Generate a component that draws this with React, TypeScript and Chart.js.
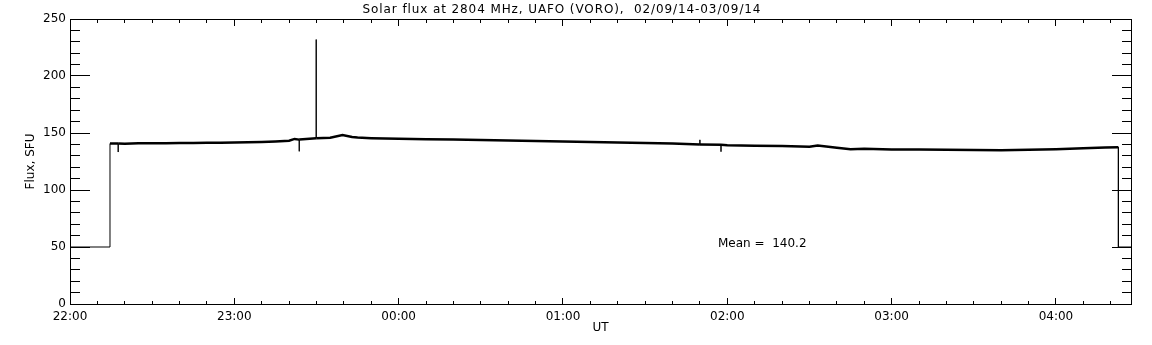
import React, { useEffect, useRef } from "react";
import { Chart, registerables } from "chart.js";

Chart.register(...registerables);

// Time axis: minutes after 22:00 UT (02/09/14)
const timeMinutes = [
  0, 14.6, 14.6, 17.6, 17.6, 17.6, 20, 25, 30, 35, 40, 45, 50, 55, 60, 65, 70, 75, 80, 82,
  83.7, 83.7, 83.7, 85, 89.9, 89.9, 89.9, 95, 99.5, 103, 105, 110, 120, 130, 140, 150, 160,
  170, 180, 190, 200, 210, 220, 230, 230, 230, 237.7, 237.7, 237.7, 240, 250, 260, 270, 273,
  280, 285, 290, 300, 310, 320, 330, 340, 350, 360, 370, 378, 382.8, 382.8, 387.4,
];
// Solar flux, SFU
const fluxSFU = [
  50, 50, 140.8, 140.7, 133.3, 140.7, 140.6, 140.9, 141.0, 141.0, 141.2, 141.2, 141.4, 141.5,
  141.6, 141.8, 142.2, 142.6, 143.2, 144.8, 144.2, 133.9, 144.2, 144.5, 145.5, 232, 145.5,
  145.8, 148.3, 146.5, 146.0, 145.5, 145.0, 144.6, 144.2, 143.8, 143.4, 143.0, 142.6, 142.2,
  141.6, 141.2, 140.7, 140.0, 144.0, 140.0, 139.6, 133.6, 139.6, 139.3, 138.9, 138.5, 137.9,
  139.0, 137.0, 135.8, 136.2, 135.6, 135.5, 135.2, 135.0, 134.9, 135.2, 135.8, 136.6, 137.2,
  137.5, 50, 50,
];

const xTickLabels = ["22:00", "23:00", "00:00", "01:00", "02:00", "03:00", "04:00"];
const yTickValues = [0, 50, 100, 150, 200, 250];
const xMax = 387.4;
const yMax = 250;
const titleText = "Solar flux at 2804 MHz, UAFO (VORO),  02/09/14-03/09/14";
const meanValue = 140.2;
const meanLabelPos = { x: 236.6, y: 53 };

const FONT = "DejaVu Sans";

const framePlugin = {
  id: "idlFrame",
  afterDraw(chart: any) {
    const { ctx, chartArea } = chart;
    const xs = chart.scales.x;
    const ys = chart.scales.y;
    const { left, right, top, bottom } = chartArea;
    ctx.save();
    ctx.strokeStyle = "#000";
    ctx.lineWidth = 1;
    ctx.strokeRect(left + 0.5, top + 0.5, right - left, bottom - top);
    ctx.beginPath();
    // y ticks (inward, both sides)
    for (let v = 0; v <= yMax; v += 10) {
      const py = Math.floor(ys.getPixelForValue(v)) + 0.5;
      const len = v % 50 === 0 ? 20 : 10;
      ctx.moveTo(left, py);
      ctx.lineTo(left + len, py);
      ctx.moveTo(right + 1, py);
      ctx.lineTo(right + 1 - len, py);
    }
    // x ticks (inward, both sides), every 10 min
    for (let m = 0; m <= xMax; m += 10) {
      const px = Math.floor(xs.getPixelForValue(m)) + 0.5;
      const len = m % 60 === 0 ? 6 : 3;
      ctx.moveTo(px, bottom);
      ctx.lineTo(px, bottom - len);
      ctx.moveTo(px, top + 1);
      ctx.lineTo(px, top + 1 + len);
    }
    ctx.stroke();
    // title
    ctx.fillStyle = "#000";
    ctx.font = `12px "${FONT}"`;
    ctx.textAlign = "center";
    ctx.textBaseline = "alphabetic";
    (ctx as any).letterSpacing = "0.9px";
    ctx.fillText(titleText, 562, 13);
    (ctx as any).letterSpacing = "0px";
    // mean label
    ctx.textAlign = "left";
    ctx.textBaseline = "middle";
    ctx.fillText(
      `Mean =  ${meanValue.toFixed(1)}`,
      xs.getPixelForValue(meanLabelPos.x),
      ys.getPixelForValue(meanLabelPos.y)
    );
    ctx.restore();
  },
};

export default function App() {
  const ref = useRef<HTMLCanvasElement | null>(null);
  useEffect(() => {
    document.body.style.margin = "0";
    document.body.style.background = "#fff";
    Chart.defaults.font.family = FONT;
    Chart.defaults.font.size = 12;
    Chart.defaults.color = "#000";
    const points = timeMinutes.map((t, i) => ({ x: t, y: fluxSFU[i] }));
    const chart = new Chart(ref.current as HTMLCanvasElement, {
      type: "line",
      data: {
        datasets: [
          {
            label: "Flux",
            data: points,
            borderColor: "#000",
            borderWidth: 2.5,
            pointRadius: 0,
            tension: 0,
            segment: {
              borderWidth: (c: any) =>
                c.p0.parsed.x === c.p1.parsed.x || c.p0.parsed.y < 60 || c.p1.parsed.y < 60 ? 1 : 2.5,
            },
          },
        ],
      },
      options: {
        responsive: false,
        animation: false,
        layout: { padding: { top: 19, right: 21, bottom: 0, left: 0 } },
        plugins: { legend: { display: false }, tooltip: { enabled: false }, title: { display: false } },
        scales: {
          x: {
            type: "linear",
            min: 0,
            max: xMax,
            grid: { display: false, drawTicks: false },
            border: { display: false },
            ticks: {
              stepSize: 60,
              includeBounds: false,
              autoSkip: false,
              maxRotation: 0,
              padding: 6,
              font: { family: FONT, size: 12 },
              color: "#000",
              callback: (v: any) => {
                const n = Number(v);
                return n % 60 === 0 ? xTickLabels[n / 60] ?? "" : "";
              },
            },
            title: {
              display: true,
              text: "UT",
              color: "#000",
              font: { family: FONT, size: 12 },
              padding: { top: 0, bottom: 10 },
            },
            afterFit: (s: any) => {
              s.height = 41;
            },
          },
          y: {
            type: "linear",
            min: 0,
            max: yMax,
            grid: { display: false, drawTicks: false },
            border: { display: false },
            afterBuildTicks: (s: any) => {
              s.ticks = yTickValues.map((v) => ({ value: v }));
            },
            ticks: {
              padding: 4,
              font: { family: FONT, size: 12 },
              color: "#000",
            },
            title: {
              display: true,
              text: "Flux, SFU",
              color: "#000",
              font: { family: FONT, size: 12 },
              padding: { top: 24, bottom: 0 },
            },
            afterFit: (s: any) => {
              s.width = 70;
            },
          },
        },
      },
      plugins: [framePlugin],
    });
    return () => chart.destroy();
  }, []);
  return <canvas ref={ref} width={1152} height={345} style={{ display: "block" }} />;
}
